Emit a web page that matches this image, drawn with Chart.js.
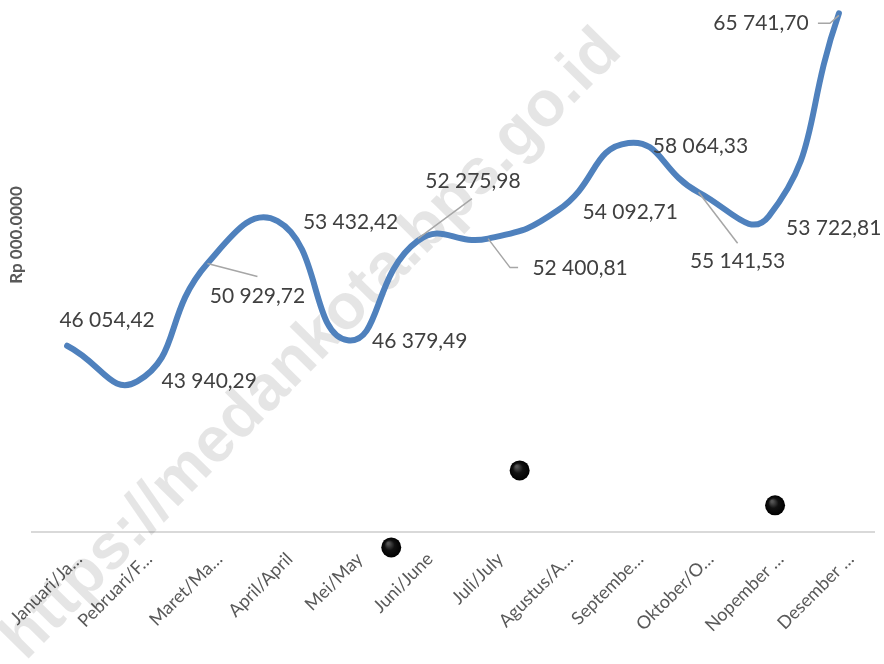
<!DOCTYPE html>
<html>
<head>
<meta charset="utf-8">
<script src="https://cdn.jsdelivr.net/npm/chart.js@4"></script>
<style>
  body { margin: 0; background: #fff; }
  #wrap { width: 884px; height: 664px; }
</style>
</head>
<body>
<div id="wrap"><canvas id="chart"></canvas></div>
<script>
// data
const categories = ['Januari/Ja…', 'Pebruari/F…', 'Maret/Ma…', 'April/April', 'Mei/May', 'Juni/June',
                    'Juli/July', 'Agustus/A…', 'Septembe…', 'Oktober/O…', 'Nopember …', 'Desember …'];
const values = [46054.42, 43940.29, 50929.72, 53432.42, 46379.49, 52275.98,
                52400.81, 54092.71, 58064.33, 55141.53, 53722.81, 65741.70];
const yTitle = 'Rp 000.0000';
const yMin = 35000;
const yMax = 66000;
const watermark = 'https://medankota.bps.go.id';
// the three black dots in the picture (x as category index)
const dotX = [4.62, 6.45, 10.09];
const dotY = [34110, 38670, 36600];

// label placement relative to each point (center of text), optional leader line
const labelPos = [
    { dx: 40, dy: -26 },
    { dx: 72, dy: 0 },
    { dx: 50, dy: 33, leader: [[0, 0], [50, 13]] },
    { dx: 73, dy: 1 },
    { dx: 72, dy: 1 },
    { dx: 55, dy: -59, leader: [[0, -2], [54, -42]] },
    { dx: 92, dy: 30, leader: [[0, 0], [22, 29], [30, 29]] },
    { dx: 72, dy: 2 },
    { dx: 72, dy: 3 },
    { dx: 39, dy: 69, leader: [[0, 0], [39, 51]] },
    { dx: 65, dy: 12 },
    { dx: -78, dy: 10, leader: [[0, 2], [-9, 10], [-21, 10]] }
];

function fmt(v) {
    const parts = v.toFixed(2).split('.');
    return parts[0].replace(/\B(?=(\d{3})+(?!\d))/g, ' ') + ',' + parts[1];
}

// watermark + axis title behind the line
const backPlugin = {
    id: 'back',
    beforeDatasetsDraw(chart) {
        const ctx = chart.ctx;
        ctx.save();
        ctx.translate(312, 345);
        ctx.rotate(-45.5 * Math.PI / 180);
        ctx.font = 'bold 64px "Liberation Sans", Arial, sans-serif';
        ctx.fillStyle = 'rgba(0,0,0,0.1)';
        ctx.textAlign = 'center';
        ctx.textBaseline = 'middle';
        ctx.fillText(watermark, 0, 0);
        ctx.restore();

        ctx.save();
        ctx.translate(17, 235);
        ctx.rotate(-Math.PI / 2);
        ctx.font = 'bold 17px Lato, sans-serif';
        ctx.fillStyle = '#595959';
        ctx.textAlign = 'center';
        ctx.textBaseline = 'middle';
        ctx.fillText(yTitle, 0, 0);
        ctx.restore();
    }
};

// value labels with leader lines, and the dots
const labelPlugin = {
    id: 'valueLabels',
    afterDatasetsDraw(chart) {
        const ctx = chart.ctx;
        const meta = chart.getDatasetMeta(0);
        ctx.save();
        meta.data.forEach((pt, i) => {
            const p = labelPos[i];
            if (p.leader) {
                ctx.beginPath();
                ctx.strokeStyle = '#a6a6a6';
                ctx.lineWidth = 1.5;
                p.leader.forEach((q, j) => {
                    if (j === 0) ctx.moveTo(pt.x + q[0], pt.y + q[1]);
                    else ctx.lineTo(pt.x + q[0], pt.y + q[1]);
                });
                ctx.stroke();
            }
            ctx.font = '21px Lato, sans-serif';
            ctx.fillStyle = '#404040';
            ctx.textAlign = 'center';
            ctx.textBaseline = 'middle';
            ctx.fillText(fmt(values[i]), pt.x + p.dx, pt.y + p.dy);
        });

        const xs = chart.scales.xd, ys = chart.scales.y;
        dotX.forEach((x, i) => {
            const px = xs.getPixelForValue(x), py = ys.getPixelForValue(dotY[i]);
            const g = ctx.createRadialGradient(px - 3, py - 4, 1, px, py, 10);
            g.addColorStop(0, '#555');
            g.addColorStop(0.45, '#111');
            g.addColorStop(1, '#000');
            ctx.beginPath();
            ctx.arc(px, py, 10, 0, Math.PI * 2);
            ctx.fillStyle = g;
            ctx.fill();
        });
        ctx.restore();
    }
};

const ctx = document.getElementById('chart').getContext('2d');
new Chart(ctx, {
    type: 'line',
    data: {
        labels: categories,
        datasets: [{
            data: values,
            borderColor: '#4f81bd',
            borderWidth: 6,
            borderCapStyle: 'round',
            borderJoinStyle: 'round',
            tension: 0.5,
            pointRadius: 0,
            fill: false,
            clip: false
        }]
    },
    options: {
        responsive: true,
        maintainAspectRatio: false,
        animation: false,
        layout: { padding: { left: 32, right: 10, top: 9, bottom: 12 } },
        plugins: {
            legend: { display: false },
            tooltip: { enabled: false }
        },
        scales: {
            x: {
                offset: true,
                grid: { display: false, drawTicks: false },
                border: { display: true, color: '#d9d9d9', width: 2 },
                afterFit(scale) { scale.paddingLeft = 0; scale.paddingRight = 0; },
                ticks: {
                    autoSkip: false,
                    maxRotation: 45,
                    minRotation: 45,
                    padding: 16,
                    labelOffset: 12,
                    color: '#595959',
                    font: { family: 'Lato', size: 18 }
                }
            },
            xd: {
                type: 'linear',
                display: false,
                min: -0.5,
                max: 11.5
            },
            y: {
                display: false,
                min: yMin,
                max: yMax
            }
        }
    },
    plugins: [backPlugin, labelPlugin]
});
</script>
</body>
</html>
